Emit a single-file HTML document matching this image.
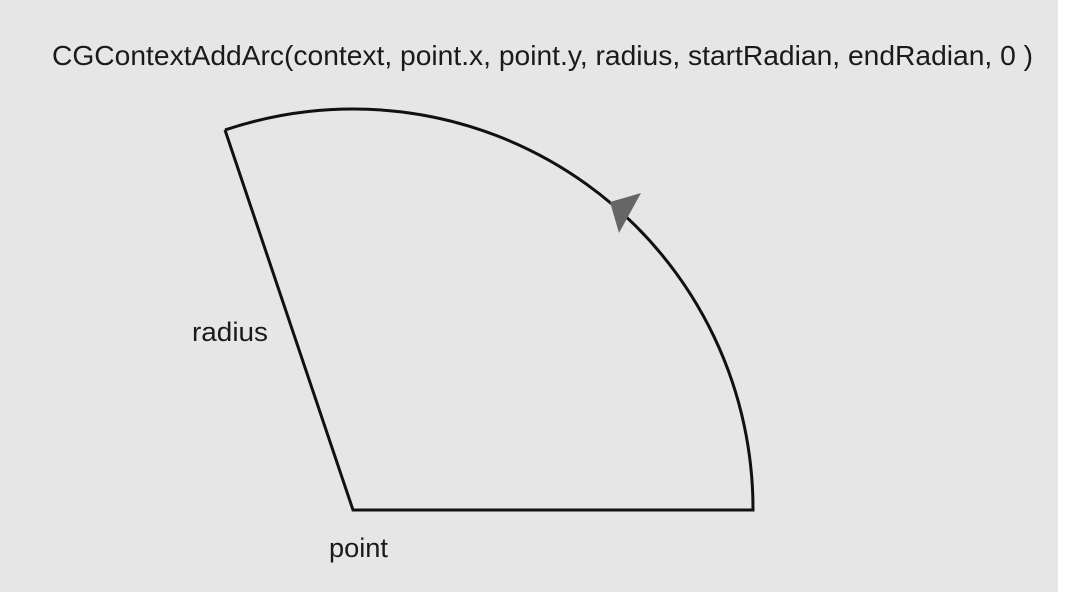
<!DOCTYPE html>
<html><head><meta charset="utf-8"><style>
html,body{margin:0;padding:0;background:#fff;}
#c{position:absolute;left:0;top:0;width:1058px;height:592px;background:#e6e6e6;}
text{font-family:"Liberation Sans",Arial,sans-serif;fill:#1a1a1a;}
</style></head><body>
<div id="c">
<svg width="1070" height="592">
<text x="52" y="65" font-size="28" textLength="981" lengthAdjust="spacingAndGlyphs">CGContextAddArc(context, point.x, point.y, radius, startRadian, endRadian, 0 )</text>
<path d="M225,130 L353,510 L753,510 A400,400 0 0 0 225,130" fill="none" stroke="#111" stroke-width="3"/>
<polygon points="610,202 641,193 619,233" fill="#666"/>
<text x="192" y="341" font-size="27" textLength="76" lengthAdjust="spacingAndGlyphs">radius</text>
<text x="329" y="557" font-size="27" textLength="59" lengthAdjust="spacingAndGlyphs">point</text>
</svg>
</div>
</body></html>
